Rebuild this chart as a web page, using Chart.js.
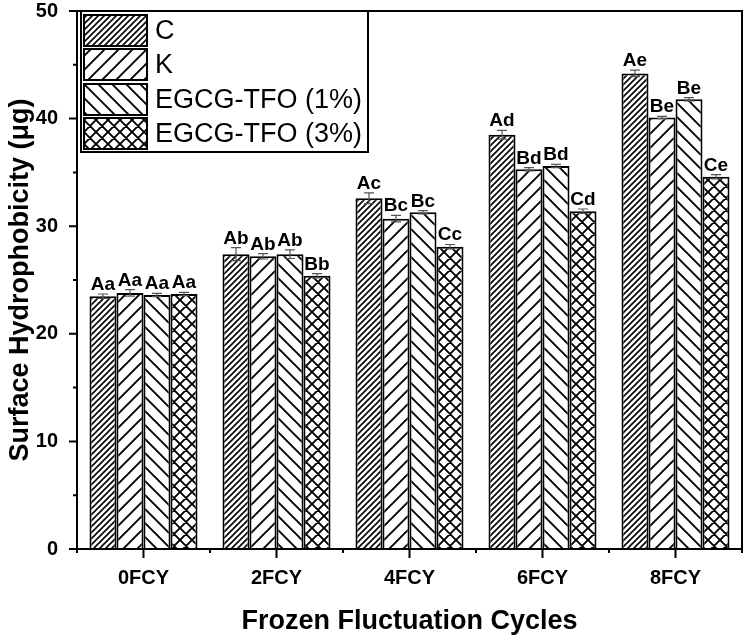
<!DOCTYPE html>
<html>
<head>
<meta charset="utf-8">
<script src="https://cdn.jsdelivr.net/npm/chart.js@4.4.1/dist/chart.umd.min.js"></script>
<style>
  html, body { margin: 0; padding: 0; background: #fff; }
  canvas { display: block; }
</style>
</head>
<body>
<canvas id="chart" width="746" height="638"></canvas>
<script>
(function () {

  // ---- data ----
  const cycles = ["0FCY", "2FCY", "4FCY", "6FCY", "8FCY"];
  const groups = ["C", "K", "EGCG-TFO (1%)", "EGCG-TFO (3%)"];

  const valC  = [23.5, 27.4, 32.6, 38.5, 44.2];
  const valK  = [23.8, 27.2, 30.7, 35.3, 40.1];
  const valT1 = [23.6, 27.4, 31.3, 35.6, 41.8];
  const valT3 = [23.7, 25.4, 28.1, 31.4, 34.6];

  const errC  = [0.2, 0.6, 0.5, 0.4, 0.3];
  const errK  = [0.3, 0.25, 0.3, 0.15, 0.1];
  const errT1 = [0.15, 0.4, 0.15, 0.15, 0.15];
  const errT3 = [0.15, 0.2, 0.2, 0.2, 0.2];

  const letC  = ["Aa", "Ab", "Ac", "Ad", "Ae"];
  const letK  = ["Aa", "Ab", "Bc", "Bd", "Be"];
  const letT1 = ["Aa", "Ab", "Bc", "Bd", "Be"];
  const letT3 = ["Aa", "Bb", "Cc", "Cd", "Ce"];

  const yTicks = [0, 10, 20, 30, 40, 50];

  const FONT = '"Liberation Sans", Arial, Helvetica, sans-serif';

  // ---- hatch patterns ----
  function hatch(kind) {
    const s = kind === "dense" ? 6 : kind === "cross" ? 12 : 14;
    const c = document.createElement("canvas");
    c.width = c.height = s;
    const g = c.getContext("2d");
    g.fillStyle = "#fff";
    g.fillRect(0, 0, s, s);
    g.strokeStyle = "#000";
    g.lineWidth = kind === "dense" ? 1.6 : 1.9;
    g.beginPath();
    if (kind === "dense" || kind === "fwd" || kind === "cross") {
      g.moveTo(0, s); g.lineTo(s, 0);
      g.moveTo(-2, 2); g.lineTo(2, -2);
      g.moveTo(s - 2, s + 2); g.lineTo(s + 2, s - 2);
    }
    if (kind === "back" || kind === "cross") {
      g.moveTo(0, 0); g.lineTo(s, s);
      g.moveTo(s - 2, -2); g.lineTo(s + 2, 2);
      g.moveTo(-2, s - 2); g.lineTo(2, s + 2);
    }
    g.stroke();
    return g.createPattern(c, "repeat");
  }

  const patterns = [hatch("dense"), hatch("fwd"), hatch("back"), hatch("cross")];

  const values = [valC, valK, valT1, valT3];
  const errors = [errC, errK, errT1, errT3];
  const letters = [letC, letK, letT1, letT3];

  const datasets = groups.map((name, i) => ({
    label: name,
    data: values[i],
    err: errors[i],
    letters: letters[i],
    backgroundColor: patterns[i],
    borderColor: "#000",
    borderWidth: 2,
    barPercentage: 1,
    categoryPercentage: 0.812
  }));

  // error bars + letter labels
  const barExtras = {
    id: "barExtras",
    afterDatasetsDraw(chart) {
      const g = chart.ctx;
      const y = chart.scales.y;
      chart.data.datasets.forEach((ds, i) => {
        chart.getDatasetMeta(i).data.forEach((bar, j) => {
          const v = ds.data[j], e = ds.err[j];
          const top = y.getPixelForValue(v + e);
          const bot = y.getPixelForValue(v - e);
          g.save();
          g.strokeStyle = "#555";
          g.lineWidth = 1.2;
          g.beginPath();
          g.moveTo(bar.x, top); g.lineTo(bar.x, bot);
          g.moveTo(bar.x - 5, top); g.lineTo(bar.x + 5, top);
          g.moveTo(bar.x - 5, bot); g.lineTo(bar.x + 5, bot);
          g.stroke();
          g.fillStyle = "#000";
          g.font = "bold 19px " + FONT;
          g.textAlign = "center";
          g.textBaseline = "alphabetic";
          g.fillText(ds.letters[j], bar.x, top - 4);
          g.restore();
        });
      });
    }
  };

  // frame, tick marks and the boxed legend
  const frame = {
    id: "frame",
    afterDraw(chart) {
      const g = chart.ctx;
      const a = chart.chartArea;
      const x = chart.scales.x, y = chart.scales.y;
      g.save();
      g.strokeStyle = "#000";
      g.lineWidth = 2;
      g.strokeRect(a.left, a.top, a.right - a.left, a.bottom - a.top);

      g.beginPath();
      for (let v = 0; v <= 50; v += 5) {
        const py = y.getPixelForValue(v);
        g.moveTo(a.left, py);
        g.lineTo(a.left - (v % 10 === 0 ? 8 : 4), py);
      }
      const half = (x.getPixelForValue(1) - x.getPixelForValue(0)) / 2;
      cycles.forEach((c, j) => {
        const px = x.getPixelForValue(j);
        g.moveTo(px, a.bottom); g.lineTo(px, a.bottom + 9);
        g.moveTo(px - half, a.bottom); g.lineTo(px - half, a.bottom + 4);
      });
      g.moveTo(a.right, a.bottom); g.lineTo(a.right, a.bottom + 4);
      g.stroke();

      // legend
      const lx = a.left + 4, ly = a.top, lw = 287, lh = 141;
      g.fillStyle = "#fff";
      g.fillRect(lx, ly, lw, lh);
      g.strokeRect(lx, ly, lw, lh);
      const rows = [4, 38, 73, 107];
      groups.forEach((name, i) => {
        const ry = a.top + rows[i];
        g.fillStyle = patterns[i];
        g.fillRect(84, ry, 63, 31);
        g.lineWidth = 2;
        g.strokeRect(84, ry, 63, 31);
        g.fillStyle = "#000";
        g.font = "27px " + FONT;
        g.textAlign = "left";
        g.textBaseline = "middle";
        g.fillText(name, 155, ry + 17);
      });
      g.restore();
    }
  };

  function noPad(s) {
    s.paddingTop = 0; s.paddingBottom = 0;
    s.paddingLeft = 0; s.paddingRight = 0;
  }

  new Chart(document.getElementById("chart"), {
    type: "bar",
    data: { labels: cycles, datasets },
    options: {
      responsive: false,
      animation: false,
      devicePixelRatio: 1,
      layout: { padding: { top: 11, right: 4, left: 0, bottom: 0 } },
      plugins: {
        legend: { display: false },
        tooltip: { enabled: false }
      },
      scales: {
        x: {
          offset: true,
          grid: { display: false, drawTicks: false },
          border: { display: false },
          ticks: {
            color: "#000",
            font: { family: FONT, size: 20, weight: "bold" },
            padding: 17,
            maxRotation: 0
          },
          title: {
            display: true,
            text: "Frozen Fluctuation Cycles",
            color: "#000",
            font: { family: FONT, size: 27, weight: "bold" },
            padding: { top: 0, bottom: 0 }
          },
          afterFit(s) { s.height = 89; noPad(s); }
        },
        y: {
          min: 0,
          max: 50,
          afterBuildTicks(s) { s.ticks = yTicks.map(v => ({ value: v })); },
          grid: { display: false, drawTicks: false },
          border: { display: false },
          ticks: {
            color: "#000",
            font: { family: FONT, size: 20, weight: "bold" },
            padding: 19
          },
          title: {
            display: true,
            text: "Surface Hydrophobicity (μg)",
            color: "#000",
            font: { family: FONT, size: 27, weight: "bold" },
            padding: { top: 4, bottom: 0 }
          },
          afterFit(s) { s.width = 77; noPad(s); }
        }
      }
    },
    plugins: [barExtras, frame]
  });

})();
</script>
</body>
</html>
